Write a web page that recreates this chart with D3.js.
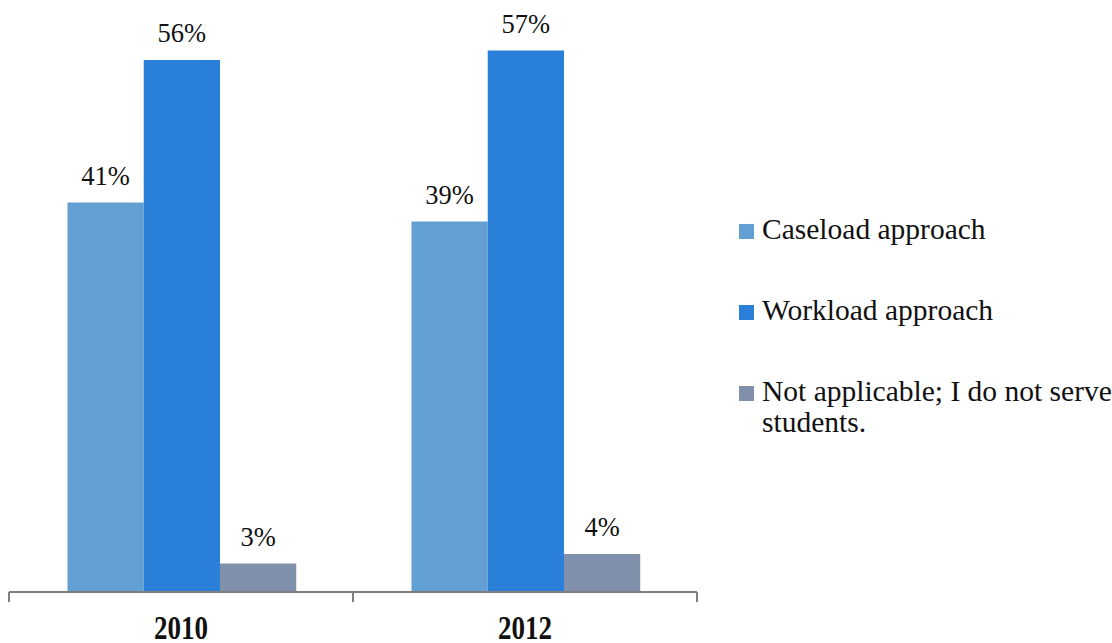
<!DOCTYPE html>
<html><head><meta charset="utf-8">
<script src="https://cdn.jsdelivr.net/npm/d3@7"></script>
<style>body{margin:0;background:#fff}svg{display:block}text{font-family:"Liberation Serif","DejaVu Serif",serif;fill:#111}</style>
</head><body><svg id="c" width="1112" height="643"></svg>
<script>
const categories = ["2010", "2012"];
const seriesNames = ["Caseload approach", "Workload approach", "Not applicable; I do not serve students."];
const caseload = [41, 39];
const workload = [56, 57];
const notApplicable = [3, 4];
const colors = ["#629fd2", "#2a7fd8", "#8190aa"];

const seriesValues = [caseload, workload, notApplicable];
const svg = d3.select("#c");
const x0 = d3.scaleBand().domain(categories).range([9, 697]).padding(0);
const bw = x0.bandwidth();
const x1 = d3.scaleBand().domain(d3.range(seriesNames.length)).range([bw*0.17, bw*0.835]).padding(0);
const y = d3.scaleLinear().domain([0, 60]).range([592, 22]);

const g = svg.append("g");
categories.forEach((c, ci) => {
  seriesValues.forEach((vals, si) => {
    const v = vals[ci];
    g.append("rect").attr("x", x0(c) + x1(si)).attr("y", y(v))
      .attr("width", x1.bandwidth()).attr("height", y(0) - y(v)).attr("fill", colors[si]);
    g.append("text").attr("x", x0(c) + x1(si) + x1.bandwidth()/2).attr("y", y(v) - 18)
      .attr("text-anchor", "middle").attr("font-size", 26.5).text(v + "%");
  });
});

const axis = d3.axisBottom(x0).tickSize(0).tickFormat("");
const ax = svg.append("g").attr("transform", "translate(0,592)").call(axis);
ax.select(".domain").remove();
ax.append("line").attr("x1", 9).attr("x2", 697).attr("stroke", "#7f7f7f").attr("stroke-width", 2);
const bounds = [x0(categories[0])].concat(categories.map(c => x0(c) + bw));
bounds.forEach(b => ax.append("line").attr("x1", b).attr("x2", b).attr("y1", 0).attr("y2", 10).attr("stroke", "#7f7f7f").attr("stroke-width", 2));
categories.forEach(c => ax.append("text")
  .attr("transform", `translate(${x0(c) + bw/2},46.5) scale(1,1.25)`)
  .attr("text-anchor", "middle").attr("font-size", 27).attr("font-weight", "bold").text(c));

const lg = svg.append("g");
const rows = [239, 320, 401];
seriesNames.forEach((n, i) => {
  lg.append("rect").attr("x", 739).attr("y", rows[i] - 15).attr("width", 15).attr("height", 15).attr("fill", colors[i]);
  const t = lg.append("text").attr("x", 762).attr("y", rows[i]).attr("font-size", 29.5);
  if (i === 2) {
    t.append("tspan").text("Not applicable; I do not serve");
    t.append("tspan").attr("x", 762).attr("dy", 31).text("students.");
  } else t.text(n);
});
</script></body></html>
